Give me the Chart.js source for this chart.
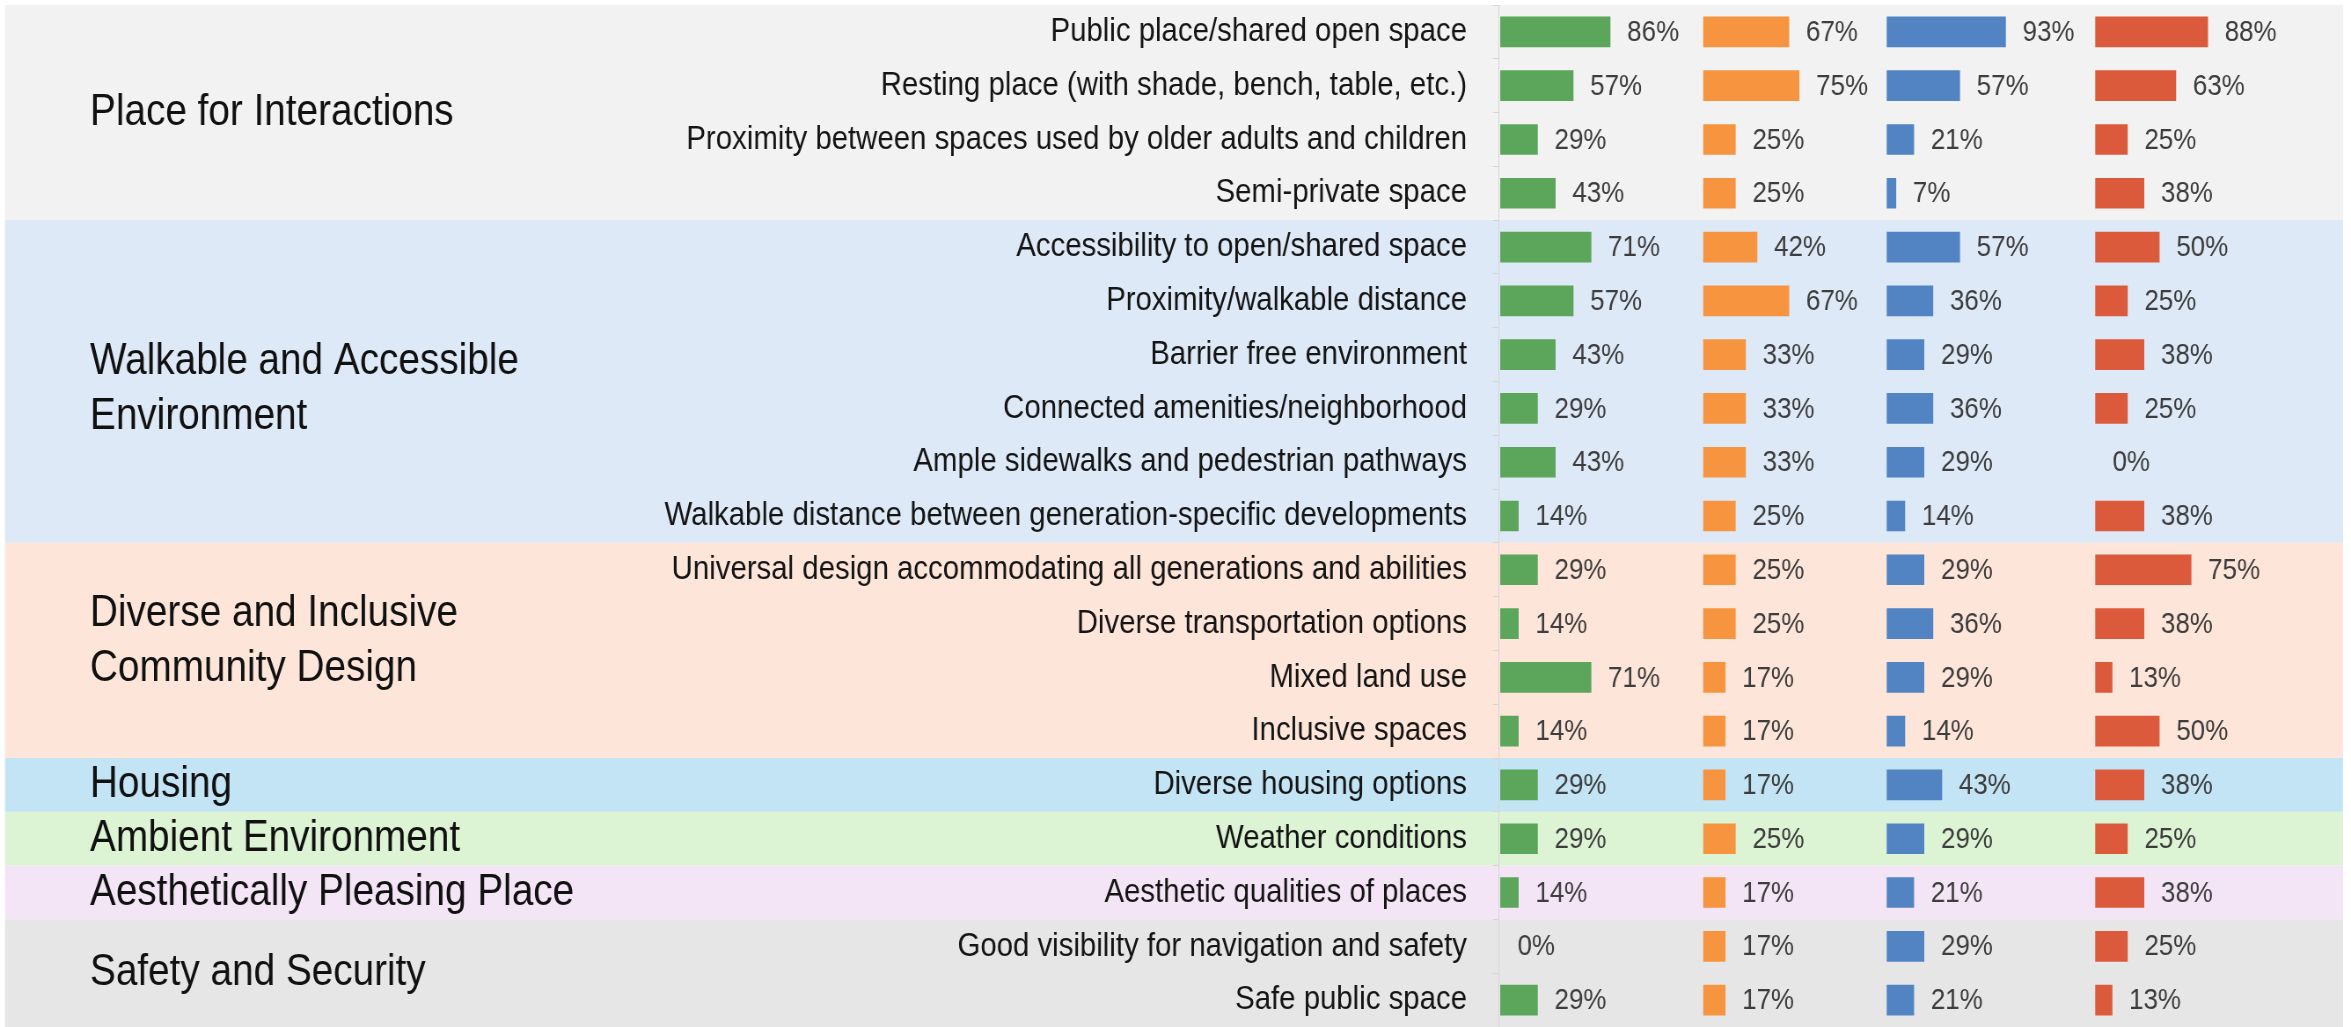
<!DOCTYPE html>
<html>
<head>
<meta charset="utf-8">
<script src="https://cdn.jsdelivr.net/npm/chart.js@4.4.1/dist/chart.umd.min.js"></script>
<style>
  html, body { margin:0; padding:0; background:#ffffff; overflow:hidden; width:2351px; height:1027px; }
  #wrap { position:absolute; left:0; top:0; width:2672px; height:1027px; transform-origin:0 0; }
</style>
</head>
<body>
<div id="wrap"><canvas id="c"></canvas></div>
<script>
// ---------------- DATA ----------------
const categories = [
  "Public place/shared open space",
  "Resting place (with shade, bench, table, etc.)",
  "Proximity between spaces used by older adults and children",
  "Semi-private space",
  "Accessibility to open/shared space",
  "Proximity/walkable distance",
  "Barrier free environment",
  "Connected amenities/neighborhood",
  "Ample sidewalks and pedestrian pathways",
  "Walkable distance between generation-specific developments",
  "Universal design accommodating all generations and abilities",
  "Diverse transportation options",
  "Mixed land use",
  "Inclusive spaces",
  "Diverse housing options",
  "Weather conditions",
  "Aesthetic qualities of places",
  "Good visibility for navigation and safety",
  "Safe public space"
];
const groupNames = [
  ["Place for Interactions"],
  ["Walkable and Accessible", "Environment"],
  ["Diverse and Inclusive", "Community Design"],
  ["Housing"],
  ["Ambient Environment"],
  ["Aesthetically Pleasing Place"],
  ["Safety and Security"]
];
const groupSizes = [4, 6, 4, 1, 1, 1, 2];

const seriesNames = ["Series 1", "Series 2", "Series 3", "Series 4"];
const seriesGreen  = [86, 57, 29, 43, 71, 57, 43, 29, 43, 14, 29, 14, 71, 14, 29, 29, 14, 0, 29];
const seriesOrange = [67, 75, 25, 25, 42, 67, 33, 33, 33, 25, 25, 25, 17, 17, 17, 25, 17, 17, 17];
const seriesBlue   = [93, 57, 21, 7, 57, 36, 29, 36, 29, 14, 29, 36, 29, 14, 43, 29, 21, 29, 21];
const seriesRed    = [88, 63, 25, 38, 50, 25, 38, 25, 0, 38, 75, 38, 13, 50, 38, 25, 38, 25, 13];

// ---------------- STYLE / LAYOUT ----------------
const barColors  = ["#5ba65a", "#f6943f", "#5283c3", "#dc5a3c"];
const bandColors = ["#f2f2f2", "#dde9f7", "#fde5d9", "#c2e4f5", "#dcf3d4", "#f3e4f6", "#e6e6e6"];
const groupLabelShift = [0, 8, -9, 0, 0, 0, 0];   // vertical nudge of group captions (px)
const FONT = "'Liberation Sans', Arial, Helvetica, sans-serif";

const CANVAS_W = 2672;
const S = 2351 / CANVAS_W;           // horizontal squeeze applied to the canvas
document.getElementById('wrap').style.transform = 'scaleX(' + S + ')';
const u = x => x / S;                // target px -> canvas px (horizontal)

const AXIS_X   = u(1499);
const RIGHT_X  = u(2343);
const BAND_L   = u(5);
const GROUP_X  = u(90);
const LABEL_GAP = u(17);
const COL_ZERO = [1500.5, 1703.5, 1887, 2095.5].map(u);
const PX_PER_PCT = u(1.275);

const allSeries = [seriesGreen, seriesOrange, seriesBlue, seriesRed];

const scales = {
  y: {
    type: 'category',
    position: 'left',
    offset: true,
    grid: { drawOnChartArea: false, drawTicks: true, tickLength: 7, color: '#d6d6d6', offset: true },
    border: { display: true, color: '#d6d6d6', width: 1 },
    ticks: {
      autoSkip: false, padding: 29.4, color: '#151515',
      font: { family: FONT, size: 33.4 }, crossAlign: 'near', minRotation: 0, maxRotation: 0
    },
    afterFit: (sc) => { sc.width = AXIS_X; sc.paddingTop = 0; sc.paddingBottom = 0; }
  }
};
allSeries.forEach((_, i) => {
  scales['x' + i] = {
    type: 'linear',
    display: false,
    min: -(COL_ZERO[i] - AXIS_X) / PX_PER_PCT,
    max: (RIGHT_X - COL_ZERO[i]) / PX_PER_PCT,
    grid: { display: false }
  };
});

const datasets = allSeries.map((vals, i) => ({
  label: seriesNames[i],
  data: vals,
  xAxisID: 'x' + i,
  yAxisID: 'y',
  backgroundColor: (c) => (c.raw === 0 ? 'rgba(0,0,0,0)' : barColors[i]),
  borderWidth: 0,
  grouped: false,
  barThickness: 30
}));

const bandsPlugin = {
  id: 'bands',
  beforeDraw(chart) {
    const ctx = chart.ctx;
    const ys = chart.scales.y;
    const n = categories.length;
    const rowH = (ys.bottom - ys.top) / n;
    let start = 0;
    ctx.save();
    groupSizes.forEach((cnt, g) => {
      const top = ys.getPixelForValue(start) - rowH / 2;
      const bot = ys.getPixelForValue(start + cnt - 1) + rowH / 2;
      ctx.fillStyle = bandColors[g];
      ctx.fillRect(BAND_L, top, RIGHT_X - BAND_L, bot - top);
      start += cnt;
    });
    start = 0;
    ctx.fillStyle = '#111111';
    ctx.font = '44px ' + FONT;
    ctx.textAlign = 'left';
    ctx.textBaseline = 'middle';
    const lineH = 55;
    groupSizes.forEach((cnt, g) => {
      const top = ys.getPixelForValue(start) - rowH / 2;
      const bot = ys.getPixelForValue(start + cnt - 1) + rowH / 2;
      const mid = (top + bot) / 2 + groupLabelShift[g];
      const lines = groupNames[g];
      lines.forEach((t, k) => {
        ctx.fillText(t, GROUP_X, mid + (k - (lines.length - 1) / 2) * lineH);
      });
      start += cnt;
    });
    ctx.restore();
  }
};

const valueLabels = {
  id: 'valueLabels',
  afterDatasetsDraw(chart) {
    const ctx = chart.ctx;
    ctx.save();
    ctx.fillStyle = '#3d3d3d';
    ctx.font = '29.5px ' + FONT;
    ctx.textAlign = 'left';
    ctx.textBaseline = 'middle';
    chart.data.datasets.forEach((ds, i) => {
      const meta = chart.getDatasetMeta(i);
      meta.data.forEach((el, j) => {
        const end = Math.max(el.x, el.base);
        ctx.fillText(ds.data[j] + '%', end + LABEL_GAP, el.y + 1);
      });
    });
    ctx.restore();
  }
};

new Chart(document.getElementById('c'), {
  type: 'bar',
  data: { labels: categories, datasets: datasets },
  options: {
    indexAxis: 'y',
    responsive: true,
    maintainAspectRatio: false,
    animation: false,
    devicePixelRatio: 1,
    layout: { padding: { top: 5, bottom: 0, left: 0, right: CANVAS_W - RIGHT_X } },
    plugins: { legend: { display: false }, tooltip: { enabled: false } },
    scales: scales
  },
  plugins: [bandsPlugin, valueLabels]
});
</script>
</body>
</html>
